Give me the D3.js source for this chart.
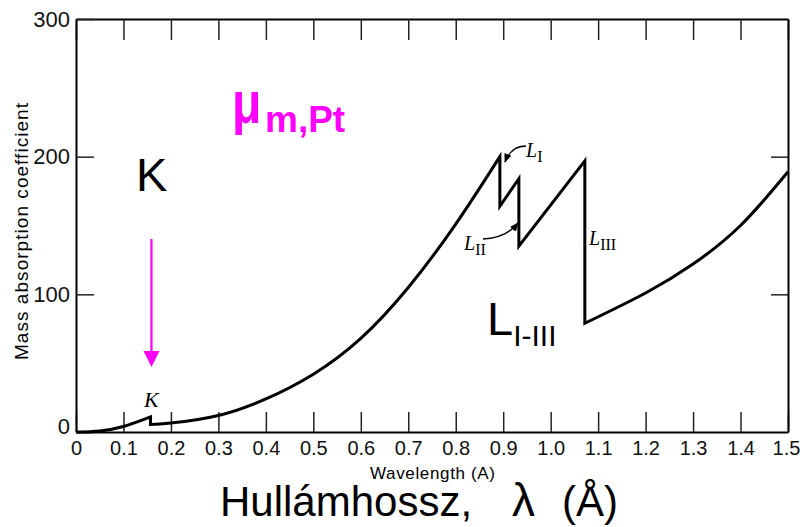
<!DOCTYPE html>
<html>
<head>
<meta charset="utf-8">
<script src="https://cdn.jsdelivr.net/npm/d3@7"></script>
<style>
  body { margin: 0; background: #fff; }
  svg { display: block; }
  .tick text { font-family: 'Liberation Sans Narrow', 'Liberation Sans', Arial, sans-serif; }
</style>
</head>
<body>
<div id="chart"></div>
<script>
// Pt mass absorption coefficient vs wavelength, one array per edge-free segment [λ (Å), μm]
const segBelowK = [[0, 0], [0.05, 0.8], [0.1, 4], [0.157, 11]];
const segKtoL1 = [[0.157, 5.5], [0.2, 6.5], [0.3, 12], [0.4, 24], [0.5, 42], [0.6, 68],
                  [0.7, 105], [0.8, 151], [0.893, 200]];
const segL1toL2 = [[0.893, 164], [0.933, 184]];
const segL2toL3 = [[0.933, 135], [1.072, 197]];
const segAboveL3 = [[1.072, 79], [1.2, 101], [1.3, 122], [1.4, 150], [1.5, 189]];

const xTicks = d3.range(0, 16).map(i => i / 10);
const yTicks = [0, 100, 200, 300];

const config = {
    width: 800,
    height: 527,
    margin: {top: 19, right: 12, bottom: 95, left: 76}
};

const svg = d3.select("#chart").append("svg")
    .attr("width", config.width)
    .attr("height", config.height);

const x = d3.scaleLinear().domain([0, 1.5])
    .range([config.margin.left, config.width - config.margin.right]);
const y = d3.scaleLinear().domain([0, 300])
    .range([config.height - config.margin.bottom, config.margin.top]);

// axes: ticks point inwards on all four sides
const bottom = svg.append("g")
    .attr("transform", `translate(0,${y(0)})`)
    .call(d3.axisBottom(x).tickValues(xTicks).tickSize(-20).tickSizeOuter(0).tickPadding(9)
        .tickFormat(d => d === 0 ? "0" : d3.format(".1f")(d)));
bottom.selectAll("text").attr("font-size", 20).attr("fill", "#111");
bottom.selectAll(".tick").filter(d => d === 1.5).select("text").attr("dx", -2);

svg.append("g")
    .attr("transform", `translate(0,${y(300)})`)
    .call(d3.axisTop(x).tickValues(xTicks).tickSize(-21).tickSizeOuter(0).tickFormat(""));

const left = svg.append("g")
    .attr("transform", `translate(${x(0)},0)`)
    .call(d3.axisLeft(y).tickValues(yTicks).tickSize(-18).tickSizeOuter(0).tickPadding(6));
left.selectAll("text").attr("font-size", 22).attr("fill", "#111");
left.selectAll(".tick").filter(d => d === 0).select("text").attr("dy", "0.05em");

svg.append("g")
    .attr("transform", `translate(${x(1.5)},0)`)
    .call(d3.axisRight(y).tickValues([100, 200]).tickSize(-17).tickSizeOuter(0).tickFormat(""));

svg.selectAll(".domain").attr("stroke", "#000").attr("stroke-width", 2);
svg.selectAll(".tick line").attr("stroke", "#222").attr("stroke-width", 1.5);

// the absorption curve, segments joined by vertical edge jumps
const line = d3.line()
    .x(d => x(d[0]))
    .y(d => y(d[1]))
    .curve(d3.curveNatural);

const pathD = [segBelowK, segKtoL1, segL1toL2, segL2toL3, segAboveL3]
    .map((s, i) => i ? "L" + line(s).slice(1) : line(s))
    .join("");

svg.append("path")
    .attr("d", pathD)
    .attr("fill", "none")
    .attr("stroke", "#000")
    .attr("stroke-width", 3)
    .attr("stroke-linejoin", "miter");

// axis titles
svg.append("text")
    .attr("transform", `translate(28,${(y(0) + y(300)) / 2 + 6}) rotate(-90)`)
    .attr("text-anchor", "middle")
    .attr("font-family", "'Liberation Sans', Arial, sans-serif")
    .attr("font-size", 19)
    .attr("textLength", 257)
    .attr("lengthAdjust", "spacing")
    .text("Mass absorption coefficient");

svg.append("text")
    .attr("x", 370).attr("y", 479)
    .attr("font-family", "'Liberation Sans', Arial, sans-serif")
    .attr("font-size", 17)
    .attr("textLength", 125)
    .text("Wavelength (A)");

const hu = svg.append("text")
    .attr("y", 516)
    .attr("font-family", "'Liberation Sans', Arial, sans-serif")
    .attr("font-size", 42);
hu.append("tspan").attr("x", 220).text("Hullámhossz,");
hu.append("tspan").attr("x", 512).attr("font-size", 46).text("λ");
hu.append("tspan").attr("x", 562).text("(Å)");

// serif edge labels from the original figure
const serif = "'Liberation Serif', 'DejaVu Serif', serif";
svg.append("text")
    .attr("x", 144).attr("y", 407)
    .attr("font-family", serif).attr("font-style", "italic").attr("font-size", 22)
    .text("K");

function edgeLabel(px, py, sub, size) {
    const t = svg.append("text")
        .attr("x", px).attr("y", py)
        .attr("font-family", serif).attr("font-size", size);
    t.append("tspan").attr("font-style", "italic").text("L");
    t.append("tspan").attr("dy", 5).attr("font-size", size * 0.8).text(sub);
}
edgeLabel(526, 157, "I", 20);
edgeLabel(464, 250, "II", 20);
edgeLabel(589, 245, "III", 20);

// small curved pointers to the L edges
svg.append("defs").append("marker")
    .attr("id", "tip")
    .attr("viewBox", "0 0 10 10")
    .attr("refX", 9).attr("refY", 5)
    .attr("markerWidth", 7).attr("markerHeight", 7)
    .attr("orient", "auto")
    .append("path").attr("d", "M0,1L10,5L0,9z").attr("fill", "#000");

svg.append("path")
    .attr("d", `M526,146 Q511,146 505,162`)
    .attr("fill", "none").attr("stroke", "#000").attr("stroke-width", 1.3)
    .attr("marker-end", "url(#tip)");
svg.append("path")
    .attr("d", `M483,239 Q506,238 518,223`)
    .attr("fill", "none").attr("stroke", "#000").attr("stroke-width", 1.3)
    .attr("marker-end", "url(#tip)");

// overlaid annotations
const sans = "'Liberation Sans', Arial, sans-serif";
svg.append("text")
    .attr("x", 136).attr("y", 191)
    .attr("font-family", sans).attr("font-size", 47)
    .text("K");

const ax = x(0.159);
svg.append("line")
    .attr("x1", ax).attr("x2", ax)
    .attr("y1", 239).attr("y2", 353)
    .attr("stroke", "#ff00ff").attr("stroke-width", 2.2);
svg.append("path")
    .attr("d", `M${ax - 8},351L${ax + 8},351L${ax},367z`)
    .attr("fill", "#ff00ff");

svg.append("text")
    .attr("transform", "translate(232,123) scale(0.8,1)")
    .attr("font-family", sans).attr("font-weight", "bold").attr("font-size", 60)
    .attr("fill", "#ff00ff")
    .text("μ");
svg.append("text")
    .attr("x", 265).attr("y", 132)
    .attr("font-family", sans).attr("font-weight", "bold").attr("font-size", 37)
    .attr("fill", "#ff00ff")
    .text("m,Pt");

const lt = svg.append("text")
    .attr("x", 487).attr("y", 335)
    .attr("font-family", sans).attr("font-size", 47);
lt.append("tspan").text("L");
lt.append("tspan").attr("dy", 11).attr("font-size", 30).text("I-III");
</script>
</body>
</html>
